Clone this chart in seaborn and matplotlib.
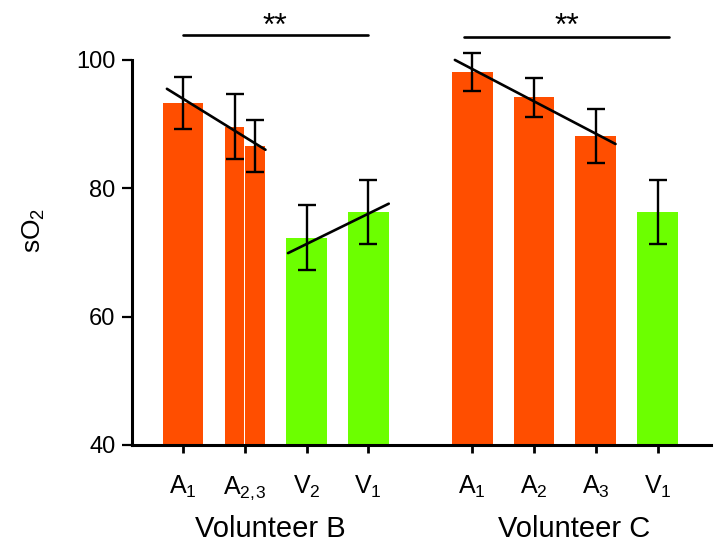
import numpy as np
import pandas as pd
import matplotlib
matplotlib.use("Agg")
import matplotlib.pyplot as plt
import seaborn as sns

sns.set_style("ticks", {"text.color": "black", "axes.labelcolor": "black",
                        "xtick.color": "black", "ytick.color": "black",
                        "axes.edgecolor": "black"})
plt.rcParams['font.family'] = ['Liberation Sans', 'DejaVu Sans']
plt.rcParams['mathtext.default'] = 'regular'

# bar data
bar_names = ["B A1", "B A2", "B A3", "B V2", "B V1", "C A1", "C A2", "C A3", "C V1"]
bar_type = ["A", "A", "A", "V", "V", "A", "A", "A", "V"]
so2_mean = [93.3, 89.6, 86.6, 72.3, 76.3, 98.1, 94.2, 88.2, 76.3]
so2_err = [4.05, 5.1, 4.05, 5.05, 5.05, 3.0, 3.05, 4.2, 5.05]

tick_labels = ["A$_1$", r"A$_{2,\!3}$", "V$_2$", "V$_1$", "A$_1$", "A$_2$", "A$_3$", "V$_1$"]
group_labels = ["Volunteer B", "Volunteer C"]

# trend lines (value at start / end of line)
trend_b_art = [95.5, 86.0]
trend_b_ven = [69.9, 77.6]
trend_c_art = [100.0, 86.9]
sig_labels = ["**", "**"]

# layout positions
c0 = 4.68
pos = [0, 1 - 0.165, 1 + 0.165, 2, 3, c0, c0 + 1, c0 + 2, c0 + 3]
tick_pos = [0, 1, 2, 3, c0, c0 + 1, c0 + 2, c0 + 3]
split = [1, 2]  # the two half-width bars

df = pd.DataFrame({"name": bar_names, "type": bar_type, "pos": pos,
                   "sO2": so2_mean, "err": so2_err})
full = df.drop(index=split)
half = df.loc[split]

palette = {"A": "#FF4E00", "V": "#6CFF00"}

fig = plt.figure(figsize=(7.26, 5.51), dpi=100)
ax = fig.add_axes([132 / 726, 1 - 445 / 551, (711 - 132) / 726, (445 - 15) / 551])

sns.barplot(data=full, x="pos", y="sO2", hue="type", palette=palette, native_scale=True,
            dodge=False, width=0.66, linewidth=0, saturation=1, legend=False,
            errorbar=None, ax=ax)
sns.barplot(data=half, x="pos", y="sO2", hue="type", palette=palette, native_scale=True,
            dodge=False, width=0.95, linewidth=0, saturation=1, legend=False,
            errorbar=None, ax=ax)

ax.errorbar(df["pos"], df["sO2"], yerr=df["err"], fmt="none", ecolor="black",
            elinewidth=1.7, capsize=6.5, capthick=1.7, zorder=5)

# trend lines
ax.plot([pos[0] - 0.26, pos[2] + 0.17], trend_b_art, color="black", lw=1.9, zorder=6)
ax.plot([pos[3] - 0.3, pos[4] + 0.33], trend_b_ven, color="black", lw=1.9, zorder=6)
ax.plot([pos[5] - 0.28, pos[7] + 0.32], trend_c_art, color="black", lw=1.9, zorder=6)

# significance bars
ax.plot([0, 3], [103.9, 103.9], color="black", lw=1.9, clip_on=False)
ax.plot([c0 - 0.13, c0 + 3.18], [103.6, 103.6], color="black", lw=1.9, clip_on=False)
ax.text(1.49, 103.9, sig_labels[0], ha="center", va="baseline", fontsize=23)
ax.text(c0 + 1.53, 103.9, sig_labels[1], ha="center", va="baseline", fontsize=23)

ax.set_xlim(-0.825, 8.545)
ax.set_ylim(40, 107)
ax.set_yticks([40, 60, 80, 100])
ax.set_xticks(tick_pos)
ax.set_xticklabels(tick_labels)
ax.set_xlabel("")
ax.set_ylabel("sO$_2$", fontsize=19, labelpad=21)

sns.despine(ax=ax)
ax.spines["left"].set_bounds(40, 100)
ax.spines["left"].set_linewidth(2.2)
ax.spines["bottom"].set_linewidth(2.2)
ax.tick_params(axis="y", labelsize=17, length=7, width=1.6, pad=5)
ax.tick_params(axis="x", labelsize=18, length=6, width=2, pad=15)

ax.text(1.42, -0.213, group_labels[0], transform=ax.get_xaxis_transform(),
        ha="center", va="baseline", fontsize=21)
ax.text(c0 + 1.65, -0.213, group_labels[1], transform=ax.get_xaxis_transform(),
        ha="center", va="baseline", fontsize=21)

fig.savefig("out.png", dpi=100)
